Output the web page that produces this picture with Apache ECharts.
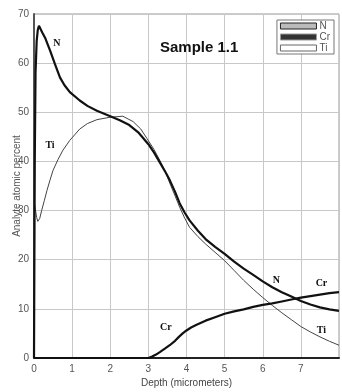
<!DOCTYPE html>
<html><head><meta charset="utf-8">
<script src="https://cdn.jsdelivr.net/npm/echarts@6/dist/echarts.min.js"></script>
<style>html,body{margin:0;padding:0;background:#fff}#c{width:342px;height:392px}</style>
</head><body><div id="c"></div>
<script>
const xTicks = [0,1,2,3,4,5,6,7];
const yTicks = [0,10,20,30,40,50,60,70];
const nDepth = [0,0.02,0.04,0.07,0.1,0.13,0.17,0.22,0.3,0.42,0.55,0.68,0.8,0.94,1.2,1.4,1.65,2.0,2.25,2.5,2.75,3.0,3.15,3.3,3.45,3.56,3.7,3.82,3.95,4.08,4.3,4.5,4.75,5.0,5.25,5.5,5.75,6.0,6.25,6.5,6.75,7.0,7.25,7.5,7.75,8.0];
const nVals  = [0,40,58,64.5,66.8,67.6,67.2,66.2,65.0,62.6,59.8,57.1,55.5,54.1,52.4,51.3,50.3,49.2,48.4,47.4,45.8,43.5,41.8,39.8,37.8,36.2,33.8,31.5,29.6,28.0,25.9,24.2,22.6,21.2,19.6,18.2,16.9,15.6,14.4,13.4,12.5,11.6,10.9,10.3,9.9,9.6];
const tiDepth = [0,0.03,0.07,0.1,0.15,0.2,0.27,0.34,0.42,0.5,0.63,0.76,0.94,1.2,1.4,1.65,2.0,2.33,2.6,2.8,2.96,3.15,3.3,3.45,3.56,3.7,3.82,3.95,4.08,4.3,4.5,4.75,5.0,5.25,5.5,5.75,6.0,6.25,6.5,6.75,7.0,7.25,7.5,7.75,8.0];
const tiVals  = [32,30.5,28.6,27.8,28.4,30.0,32.0,34.1,36.2,38.2,40.4,42.3,44.3,46.6,47.7,48.5,49.0,49.2,48.1,46.6,44.7,42.4,40.2,37.8,35.6,33.0,30.7,28.5,26.6,24.7,23.2,21.5,19.8,17.8,15.8,14.0,12.3,10.7,9.2,7.8,6.4,5.3,4.3,3.4,2.6];
const crDepth = [0,3.0,3.1,3.2,3.3,3.45,3.56,3.7,3.8,3.9,4.0,4.12,4.25,4.5,4.75,5.0,5.25,5.5,5.75,6.0,6.25,6.5,6.75,7.0,7.25,7.5,7.75,8.0];
const crVals  = [0,0,0.3,0.7,1.2,2.0,2.6,3.5,4.3,5.0,5.6,6.2,6.7,7.6,8.3,9.0,9.5,9.9,10.4,10.8,11.1,11.5,11.9,12.3,12.6,12.9,13.2,13.4];
const seriesNames = ['N','Cr','Ti'];
const title = 'Sample 1.1';
const xName = 'Depth (micrometers)';
const yName = 'Analyte atomic percent';

const pair = (xs, ys) => xs.map((x,i)=>[x, ys[i]]);
const lbl = (name, x, y) => ({name, coord:[x,y], value:name});
const lblStyle = {show:true, formatter:'{b}', fontFamily:'Liberation Serif', fontWeight:'bold', fontSize:10, color:'#111', position:'inside'};

const chart = echarts.init(document.getElementById('c'), null, {renderer:'canvas'});
chart.setOption({
  animation:false,
  backgroundColor:'#fff',
  title:{text:title, left:155, top:35, textStyle:{fontFamily:'Liberation Sans', fontWeight:'bold', fontSize:15, color:'#111'}},
  grid:{left:34, top:14, right:3, bottom:34, show:true, borderColor:'#999', borderWidth:1, containLabel:false, outerBoundsMode:'none'},
  legend:{
    orient:'vertical', right:8, top:20, itemWidth:36, itemHeight:6, itemGap:1,
    padding:[1,4,1,3], borderColor:'#777', borderWidth:1, backgroundColor:'#fff',
    textStyle:{fontFamily:'Liberation Sans', fontSize:10, lineHeight:10, color:'#555', padding:[0,0,0,-2]},
    data:[
      {name:'N', icon:'rect', itemStyle:{color:'#bbb', borderColor:'#222', borderWidth:1}},
      {name:'Cr', icon:'rect', itemStyle:{color:'#333', borderColor:'#999', borderWidth:1}},
      {name:'Ti', icon:'rect', itemStyle:{color:'#fff', borderColor:'#666', borderWidth:1}}
    ]
  },
  xAxis:{type:'value', min:0, max:8, interval:1, name:xName, nameLocation:'middle', nameGap:20, nameMoveOverlap:false,
    nameTextStyle:{fontFamily:'Liberation Sans', fontSize:10, color:'#444'},
    axisLine:{lineStyle:{color:'#222', width:2}}, axisTick:{show:false},
    axisLabel:{fontFamily:'Liberation Sans', fontSize:10, color:'#555', margin:6,
      formatter:v=> xTicks.includes(v) ? String(v) : ''},
    splitLine:{lineStyle:{color:'#c8c8c8', width:1}}},
  yAxis:{type:'value', min:0, max:70, interval:10, name:yName, nameLocation:'middle', nameGap:12, nameMoveOverlap:false,
    nameTextStyle:{fontFamily:'Liberation Sans', fontSize:10, color:'#555'},
    axisLine:{lineStyle:{color:'#555', width:2}}, axisTick:{show:false},
    axisLabel:{fontFamily:'Liberation Sans', fontSize:10, color:'#555', margin:5,
      formatter:v=> yTicks.includes(v) ? String(v) : ''},
    splitLine:{lineStyle:{color:'#c8c8c8', width:1}}},
  series:[
    {name:'N', type:'line', data:pair(nDepth,nVals), showSymbol:false, smooth:false, z:5,
      lineStyle:{color:'#111', width:2.2}, itemStyle:{color:'#111'},
      markPoint:{symbol:'circle', symbolSize:0, label:lblStyle, data:[lbl('N',0.6,64), lbl('N',6.36,15.8)]}},
    {name:'Cr', type:'line', data:pair(crDepth,crVals), showSymbol:false, smooth:false, z:4,
      lineStyle:{color:'#111', width:2.2}, itemStyle:{color:'#111'},
      markPoint:{symbol:'circle', symbolSize:0, label:lblStyle, data:[lbl('Cr',3.46,6.3), lbl('Cr',7.54,15.2)]}},
    {name:'Ti', type:'line', data:pair(tiDepth,tiVals), showSymbol:false, smooth:false, z:3,
      lineStyle:{color:'#444', width:1}, itemStyle:{color:'#444'},
      markPoint:{symbol:'circle', symbolSize:0, label:lblStyle, data:[lbl('Ti',0.42,43.3), lbl('Ti',7.54,5.7)]}}
  ]
});
</script></body></html>
